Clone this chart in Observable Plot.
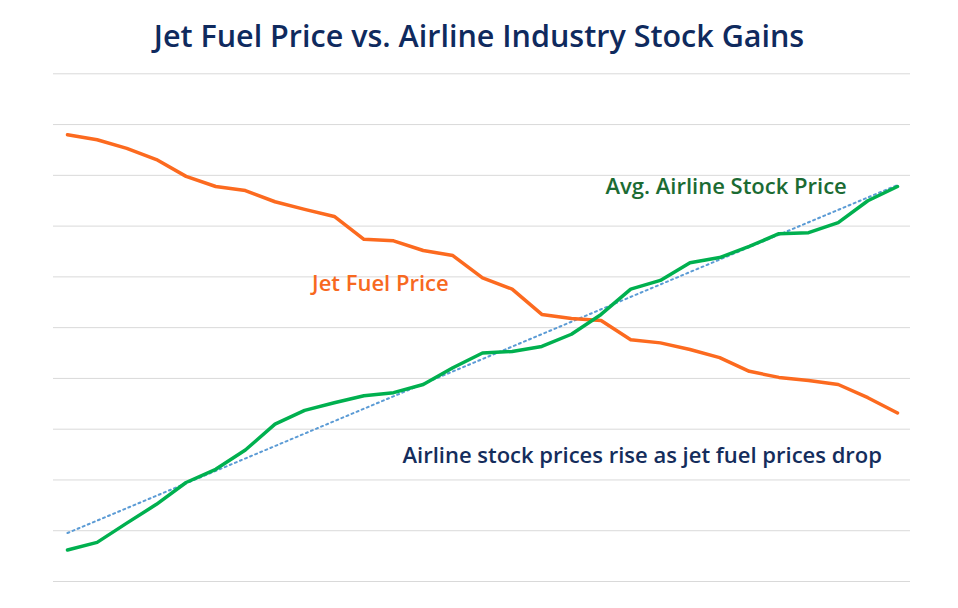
<!DOCTYPE html>
<html>
<head>
<meta charset="utf-8">
<script src="https://cdn.jsdelivr.net/npm/d3@7"></script>
<script src="https://cdn.jsdelivr.net/npm/@observablehq/plot@0.6"></script>
<style>
  html, body { margin: 0; padding: 0; background: #fff; }
  #title { height: 60px; line-height: 70px; text-align: center; font-family: "Open Sans", sans-serif; font-weight: 600; font-size: 30.5px; color: #0f2a5e; overflow: hidden; }
  #chart svg { display: block; }
</style>
</head>
<body>
<div id="title">Jet Fuel Price vs. Airline Industry Stock Gains</div>
<div id="chart"></div>
<script>
// Period index (no labels shown in the original)
const periods = d3.range(29);

// Jet fuel price (relative units)
const jetFuel = [88.0, 87.0, 85.3, 83.1, 79.8, 77.8, 77.0, 74.8, 73.3, 71.9,
                 67.4, 67.1, 65.2, 64.2, 59.8, 57.6, 52.6, 51.8, 51.4, 47.6,
                 47.0, 45.7, 44.1, 41.4, 40.2, 39.6, 38.8, 36.2, 33.2];

// Average airline stock price (relative units)
const airline = [6.2, 7.7, 11.5, 15.2, 19.5, 22.1, 25.9, 31.0, 33.7, 35.2,
                 36.6, 37.2, 38.8, 42.1, 45.0, 45.3, 46.3, 48.7, 52.6, 57.6,
                 59.3, 62.8, 63.8, 66.0, 68.5, 68.7, 70.7, 75.0, 77.8];

// Gridline values
const gridTicks = d3.range(0, 101, 10);

// Annotations (in data coordinates)
const annoText = ["Jet Fuel Price", "Avg. Airline Stock Price", "Airline stock prices rise as jet fuel prices drop"];
const annoX = [8.25, 18.15, 11.3];
const annoY = [58.7, 77.8, 24.8];
const annoColor = ["#f7691f", "#1b6b33", "#142d5c"];

const fuelData = periods.map(i => ({i, v: jetFuel[i]}));
const airData = periods.map(i => ({i, v: airline[i]}));
const annos = annoText.map((t, k) => ({t, x: annoX[k], y: annoY[k], c: annoColor[k]}));

const chart = Plot.plot({
  width: 958,
  height: 548,
  marginLeft: 53,
  marginRight: 48,
  marginTop: 13.3,
  marginBottom: 27,
  x: {domain: [0, 28], insetLeft: 14, insetRight: 13, axis: null},
  y: {domain: [0, 100], axis: null},
  style: {fontFamily: "Open Sans, sans-serif", background: "#fff"},
  marks: [
    Plot.ruleY(gridTicks, {stroke: "#d9d9d9", strokeWidth: 1, strokeOpacity: 1}),
    Plot.linearRegressionY(airData, {x: "i", y: "v", ci: 0, stroke: "#5b9bd5", strokeWidth: 2, strokeDasharray: "2,3.5"}),
    Plot.line(fuelData, {x: "i", y: "v", stroke: "#fc6a1f", strokeWidth: 3.5, strokeLinejoin: "round"}),
    Plot.line(airData, {x: "i", y: "v", stroke: "#00b04f", strokeWidth: 3.5, strokeLinejoin: "round"}),
    Plot.text(annos, {x: "x", y: "y", text: "t", fill: "c", textAnchor: "start", fontSize: 22, fontWeight: 600})
  ]
});
document.getElementById("chart").appendChild(chart);
</script>
</body>
</html>
